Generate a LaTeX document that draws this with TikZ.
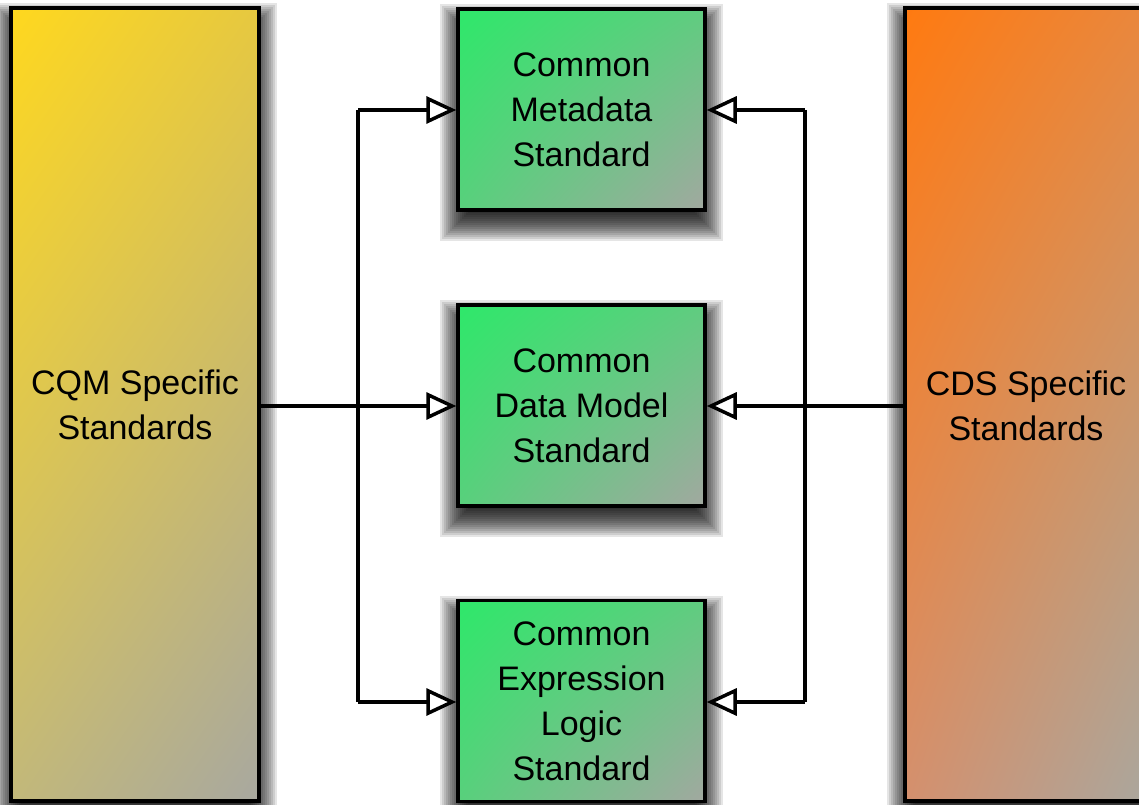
\documentclass[tikz,border=0pt]{standalone}
\usepackage{fontspec}
\setmainfont{Liberation Sans}
\usetikzlibrary{arrows.meta,shadings}
\definecolor{gUL}{RGB}{46,232,106}
\definecolor{gUR}{RGB}{96,204,128}
\definecolor{gLL}{RGB}{88,208,124}
\definecolor{gLR}{RGB}{162,168,160}
\definecolor{yUL}{RGB}{255,216,30}
\definecolor{yUR}{RGB}{230,200,64}
\definecolor{yLL}{RGB}{194,184,122}
\definecolor{yLR}{RGB}{168,168,160}
\definecolor{oUL}{RGB}{255,122,16}
\definecolor{oUR}{RGB}{232,136,64}
\definecolor{oLL}{RGB}{212,144,110}
\definecolor{oLR}{RGB}{168,168,160}
\pgfdeclarelayer{bg}
\pgfdeclarelayer{sh}
\pgfsetlayers{bg,sh,main}
\tikzset{
  box/.style={draw=black, line width=3.5pt, inner sep=0pt, align=center,
    font=\fontsize{34}{45}\selectfont},
  sidebox/.style={box, minimum width=248pt, minimum height=793pt},
  stdbox/.style={box, minimum width=247pt, minimum height=201pt,
    upper left=gUL, upper right=gUR, lower left=gLL, lower right=gLR},
  arr/.style={line width=3.5pt, -{Triangle[open, length=30pt, width=27pt, fill=white, line width=3.5pt]}},
  ln/.style={line width=3.5pt},
  shlayer/.style={fill=black, fill opacity=0.1}
}
\newcommand\boxshadow[1]{%
  \foreach \r in {-14,-12,...,16}{%
    \pgfmathsetmacro\lox{-(\r)}%
    \pgfmathsetmacro\loy{-13-(\r)}%
    \pgfmathsetmacro\hiy{-13+(\r)}%
    \fill[shlayer] ([xshift=\lox pt, yshift=\loy pt]#1.south west) rectangle ([xshift=\r pt, yshift=\hiy pt]#1.north east);
  }%
}
\begin{document}
\begin{tikzpicture}[x=1pt,y=1pt]
\begin{pgfonlayer}{bg}
\fill[white] (0,0) rectangle (1139,804);
\end{pgfonlayer}
\useasboundingbox (0,0) rectangle (1139,804);
\clip (0,0) rectangle (1139,804);
\node[sidebox, upper left=yUL, upper right=yUR, lower left=yLL, lower right=yLR]
  (cqm) at (135,399.5) {CQM Specific\\Standards};
\node[sidebox, minimum width=254pt, upper left=oUL, upper right=oUR, lower left=oLL, lower right=oLR]
  (cds) at (1032,399.5) {};
\node[font=\fontsize{34}{45}\selectfont, align=center] (cdst) at (1026,398) {CDS Specific\\Standards};
\node[stdbox] (cmd) at (581.5,694.5) {Common\\Metadata\\Standard};
\node[stdbox] (cdm) at (581.5,398.5) {Common\\Data Model\\Standard};
\node[stdbox] (cel) at (581.5,103) {Common\\Expression\\Logic\\Standard};
\begin{pgfonlayer}{sh}
\boxshadow{cqm}
\boxshadow{cds}
\boxshadow{cmd}
\boxshadow{cdm}
\boxshadow{cel}
\end{pgfonlayer}
\coordinate (lt) at (358,694);
\coordinate (lb) at (358,102);
\coordinate (rt) at (805,694);
\coordinate (rb) at (805,102);
\draw[ln] (lt) -- (lb);
\draw[ln] (rt) -- (rb);
\draw[arr] (lt) -- (cmd.west |- lt);
\draw[arr] (lb) -- (cel.west |- lb);
\draw[arr] (rt) -- (cmd.east |- rt);
\draw[arr] (rb) -- (cel.east |- rb);
\draw[arr] (cqm.east |- 0,398) -- (cdm.west |- 0,398);
\draw[arr] (cds.west |- 0,398) -- (cdm.east |- 0,398);
\end{tikzpicture}
\end{document}
